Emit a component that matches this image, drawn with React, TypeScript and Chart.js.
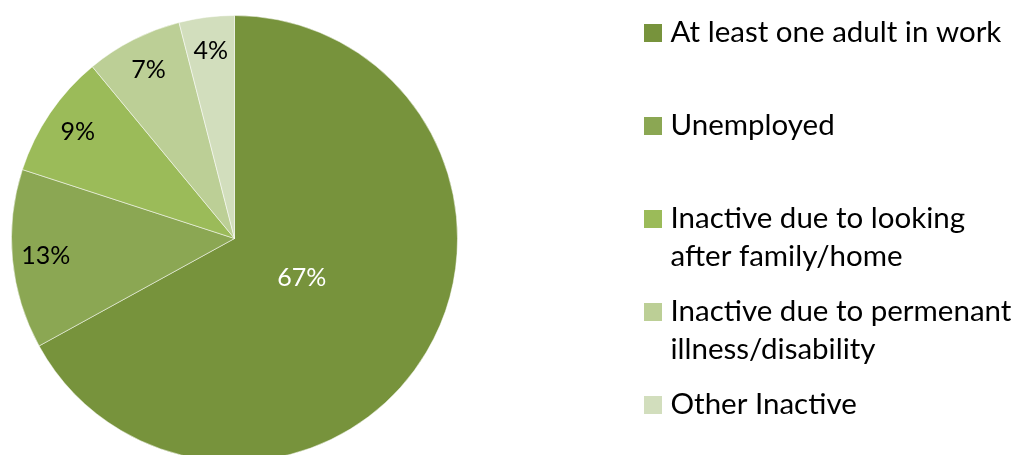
import React, { useEffect, useRef } from "react";
import { Chart, registerables } from "chart.js";

Chart.register(...registerables);

const categories: string[][] = [
  ["At least one adult in work"],
  ["Unemployed"],
  ["Inactive due to looking", "after family/home"],
  ["Inactive due to permenant", "illness/disability"],
  ["Other Inactive"],
];
const shares: number[] = [67, 13, 9, 7, 4];
const sliceColors: string[] = ["#77933C", "#8BA753", "#9BBB59", "#BCCF96", "#D2DEBD"];
const labelColors: string[] = ["#FFFFFF", "#000000", "#000000", "#000000", "#000000"];

const FONT = "Lato, 'Open Sans', sans-serif";

const sliceLabelPlugin = {
  id: "sliceLabels",
  afterDatasetsDraw(chart: any) {
    const ctx = chart.ctx;
    const meta = chart.getDatasetMeta(0);
    ctx.save();
    ctx.font = `25px ${FONT}`;
    ctx.textAlign = "center";
    ctx.textBaseline = "middle";
    meta.data.forEach((arc: any, i: number) => {
      const p = arc.getProps(["x", "y", "startAngle", "endAngle", "outerRadius"], true);
      const mid = (p.startAngle + p.endAngle) / 2;
      const frac = shares[i] > 50 ? 0.35 : 0.85;
      const r = p.outerRadius * frac;
      ctx.fillStyle = labelColors[i];
      ctx.fillText(`${shares[i]}%`, p.x + Math.cos(mid) * r, p.y + Math.sin(mid) * r);
    });
    ctx.restore();
  },
};

const legendPlugin = {
  id: "sideLegend",
  afterDraw(chart: any) {
    const ctx = chart.ctx;
    ctx.save();
    ctx.font = `29.5px ${FONT}`;
    ctx.textAlign = "left";
    ctx.textBaseline = "alphabetic";
    const firstBaseline = 42;
    const itemGap = 93;
    const lineGap = 38;
    categories.forEach((lines, i) => {
      const base = firstBaseline + i * itemGap;
      ctx.fillStyle = sliceColors[i];
      ctx.fillRect(644, base - 18, 18, 18);
      ctx.fillStyle = "#000000";
      lines.forEach((line, j) => {
        ctx.fillText(line, 670.5, base + j * lineGap);
      });
    });
    ctx.restore();
  },
};

export default function App() {
  const ref = useRef<HTMLCanvasElement | null>(null);

  useEffect(() => {
    if (!ref.current) return;
    const chart = new Chart(ref.current, {
      type: "pie",
      data: {
        labels: categories.map((l) => l.join(" ")),
        datasets: [
          {
            data: shares,
            backgroundColor: sliceColors,
            borderColor: "rgba(255,255,255,0.5)",
            borderWidth: 1,
          },
        ],
      },
      options: {
        animation: false,
        responsive: false,
        maintainAspectRatio: false,
        devicePixelRatio: 1,
        layout: { padding: { left: 11, top: 15, right: 561, bottom: 15 } },
        plugins: {
          legend: { display: false },
          tooltip: { enabled: false },
          title: { display: false },
        },
      },
      plugins: [sliceLabelPlugin, legendPlugin],
    });
    return () => chart.destroy();
  }, []);

  return (
    <div
      style={{
        position: "absolute",
        left: 0,
        top: 0,
        width: 1019,
        height: 455,
        overflow: "hidden",
        background: "#ffffff",
      }}
    >
      <canvas ref={ref} width={1019} height={477} style={{ display: "block", width: 1019, height: 477 }} />
    </div>
  );
}
